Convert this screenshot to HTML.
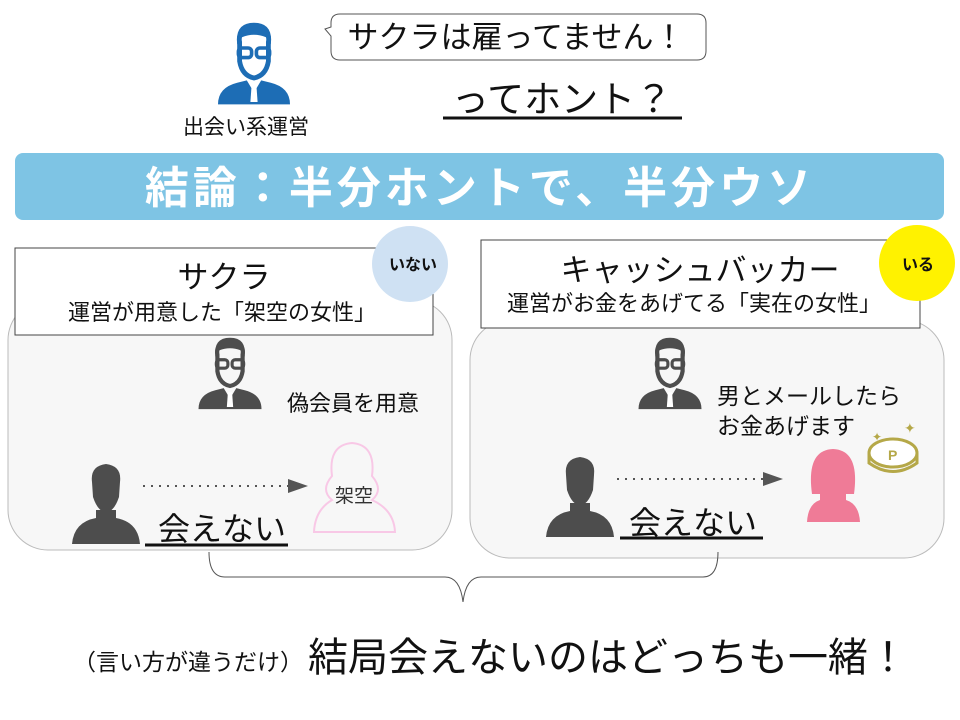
<!DOCTYPE html>
<html><head><meta charset="utf-8"><style>
html,body{margin:0;padding:0;background:#fff;}
svg{display:block;}
text{font-family:"Liberation Sans","Noto Sans CJK JP",sans-serif;}
</style></head><body>
<svg width="960" height="720" viewBox="0 0 960 720" xmlns="http://www.w3.org/2000/svg">
<defs>
 <g id="mgr">
  <path d="M-12,-30 Q-14,-40 0,-42 Q14,-40 12,-30 L12,-14 Q10,-2 0,0 Q-10,-2 -12,-14 Z" fill="none" stroke="currentColor" stroke-width="4"/>
  <path d="M-14,-28 Q-16,-46 0,-46 Q16,-46 14,-28 L10,-34 Q0,-38 -10,-34 Z" fill="currentColor"/>
  <rect x="-13" y="-25" width="11" height="8" rx="3" fill="none" stroke="currentColor" stroke-width="3"/>
  <rect x="2" y="-25" width="11" height="8" rx="3" fill="none" stroke="currentColor" stroke-width="3"/>
  <path d="M-30,22 Q-30,8 -14,4 L-6,2 L0,12 L6,2 L14,4 Q30,8 30,22 Z" fill="currentColor"/>
  <path d="M-2,6 L2,6 L3,20 L-3,20 Z" fill="#fff"/>
 </g>
 <g id="man">
  <path d="M-14,-40 Q-16,-56 0,-58 Q16,-56 14,-40 L13,-25 Q8,-10 0,-10 Q-8,-10 -13,-25 Z" fill="#4d4d4d"/>
  <path d="M-10,-12 L10,-12 L10,-4 Q32,0 34,22 L-34,22 Q-32,0 -10,-4 Z" fill="#4d4d4d"/>
 </g>
</defs>

<g transform="translate(254,78)" color="#1d6db5"><use href="#mgr" transform="scale(1.2)"/></g>
<text x="246" y="134" font-size="21" text-anchor="middle" fill="#111">出会い系運営</text>

<path d="M340,14 L697,14 Q706,14 706,23 L706,51 Q706,60 697,60 L340,60 Q331,60 331,51 L331,36 L325,29 L331,27 L331,23 Q331,14 340,14 Z" fill="#fff" stroke="#555" stroke-width="1"/>
<text x="516" y="48" font-size="31" text-anchor="middle" fill="#111">サクラは雇ってません！</text>
<text x="562" y="112" font-size="37" text-anchor="middle" fill="#111">ってホント？</text>
<line x1="443" y1="118" x2="682" y2="118" stroke="#111" stroke-width="3"/>

<rect x="15" y="153" width="929" height="67" rx="8" fill="#7ec4e4"/>
<text x="480" y="203" font-size="44" font-weight="bold" text-anchor="middle" fill="#fff" letter-spacing="4">結論：半分ホントで、半分ウソ</text>

<rect x="8" y="300" width="444" height="250" rx="40" fill="#f7f7f7" stroke="#bbb"/>
<rect x="15" y="248" width="418" height="87" fill="#fff" stroke="#444"/>
<text x="224" y="288" font-size="31" text-anchor="middle" fill="#111">サクラ</text>
<text x="222" y="320" font-size="22" text-anchor="middle" fill="#111">運営が用意した「架空の女性」</text>
<circle cx="410" cy="264" r="38" fill="#cfe1f3"/>
<text x="413" y="270" font-size="16" font-weight="bold" text-anchor="middle" fill="#111">いない</text>
<g transform="translate(230,386)" color="#4d4d4d"><use href="#mgr" transform="scale(1.05)"/></g>
<text x="353" y="411" font-size="22" text-anchor="middle" fill="#111">偽会員を用意</text>
<g transform="translate(106,522)"><use href="#man"/></g>
<line x1="143" y1="486" x2="290" y2="486" stroke="#555" stroke-width="2" stroke-dasharray="2,6"/>
<path d="M288,479 L308,486 L288,493 Z" fill="#555"/>
<path d="M332,500 Q320,490 332,476 Q328,445 352,443 Q376,445 372,476 Q384,490 372,500 Q394,510 395,532 L314,532 Q315,510 332,500 Z" fill="none" stroke="#f8c8e6" stroke-width="2"/>
<text x="354" y="502" font-size="19" text-anchor="middle" fill="#333">架空</text>
<text x="222" y="540" font-size="32" text-anchor="middle" fill="#111">会えない</text>
<line x1="145" y1="545" x2="288" y2="545" stroke="#111" stroke-width="3"/>

<rect x="470" y="320" width="474" height="238" rx="40" fill="#f7f7f7" stroke="#bbb"/>
<rect x="481" y="240" width="439" height="88" fill="#fff" stroke="#444"/>
<text x="700" y="281" font-size="31" text-anchor="middle" fill="#111">キャッシュバッカー</text>
<text x="694" y="311" font-size="22" text-anchor="middle" fill="#111">運営がお金をあげてる「実在の女性」</text>
<circle cx="917" cy="263" r="38" fill="#fff200"/>
<text x="918" y="270" font-size="16" font-weight="bold" text-anchor="middle" fill="#111">いる</text>
<g transform="translate(670,386)" color="#4d4d4d"><use href="#mgr" transform="scale(1.05)"/></g>
<text x="717" y="404" font-size="23" fill="#111">男とメールしたら</text>
<text x="717" y="434" font-size="23" fill="#111">お金あげます</text>
<g transform="translate(580,515)"><use href="#man"/></g>
<line x1="617" y1="479" x2="765" y2="479" stroke="#555" stroke-width="2" stroke-dasharray="2,6"/>
<path d="M763,472 L783,479 L763,486 Z" fill="#555"/>
<path d="M812,494 Q806,450 833,449 Q860,450 854,494 L846,494 L846,500 Q859,504 860,522 L807,522 Q808,504 820,500 L820,494 Z" fill="#ef7b97"/>
<ellipse cx="893" cy="453" rx="24" ry="14" fill="#fff" stroke="#b5a848" stroke-width="3"/>
<path d="M869,453 L869,463 Q893,480 917,463 L917,453" fill="none" stroke="#b5a848" stroke-width="3"/>
<text x="888" y="460" font-size="14" font-weight="bold" fill="#b5a848">P</text>
<text x="872" y="441" font-size="12" fill="#b5a848">✦</text>
<text x="904" y="433" font-size="14" fill="#b5a848">✦</text>
<text x="693" y="534" font-size="32" text-anchor="middle" fill="#111">会えない</text>
<line x1="620" y1="538" x2="763" y2="538" stroke="#111" stroke-width="3"/>

<path d="M209,552 Q209,577 225,577 L445,577 Q460,577 463,602 Q466,577 481,577 L703,577 Q718,577 718,552" fill="none" stroke="#555" stroke-width="1"/>

<text x="73" y="670" font-size="23" fill="#111">（言い方が違うだけ）</text>
<text x="308" y="671" font-size="40" fill="#111">結局会えないのはどっちも一緒！</text>
</svg>
</body></html>
